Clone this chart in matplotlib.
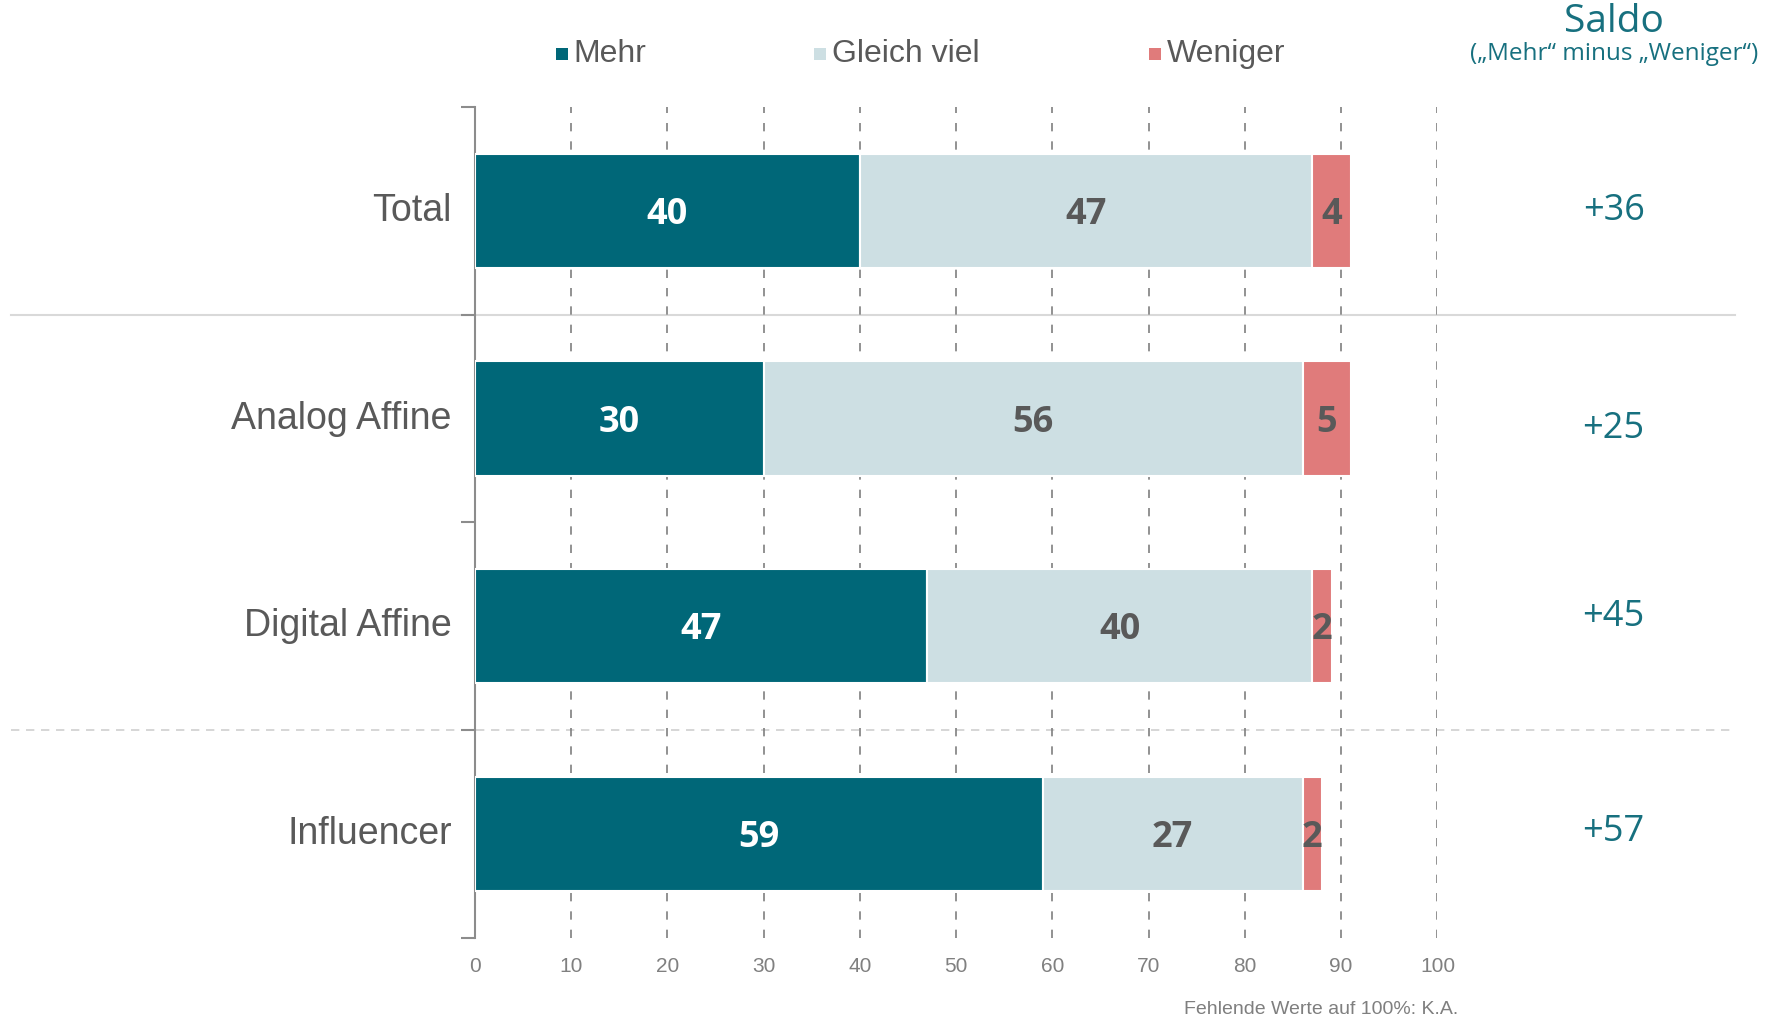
import matplotlib
matplotlib.use("Agg")
import matplotlib.pyplot as plt
from matplotlib.patches import Rectangle
from matplotlib.transforms import blended_transform_factory

groups = ["Total", "Analog Affine", "Digital Affine", "Influencer"]
mehr = [40, 30, 47, 59]
gleich = [47, 56, 40, 27]
weniger = [4, 5, 2, 2]
saldo = ["+36", "+25", "+45", "+57"]
series_names = ["Mehr", "Gleich viel", "Weniger"]

c_mehr = "#006778"
c_gleich = "#cddfe3"
c_weniger = "#e07b7b"
c_teal = "#17707f"
c_text = "#595959"

narrow = ["Liberation Sans Narrow", "Liberation Sans", "DejaVu Sans"]
arial = ["Liberation Sans", "DejaVu Sans"]
num_font = ["Open Sans", "DejaVu Sans"]

fig = plt.figure(figsize=(17.72, 10.18), dpi=100)
ax = fig.add_axes([0.2679, 0.0786, 0.5433, 0.8164])

y = list(range(len(groups)))
h = 0.55
left2 = [m + g for m, g in zip(mehr, gleich)]
ax.barh(y, mehr, height=h, color=c_mehr, edgecolor="white", linewidth=1.5, zorder=3)
ax.barh(y, gleich, left=mehr, height=h, color=c_gleich, edgecolor="white", linewidth=1.5, zorder=3)
ax.barh(y, weniger, left=left2, height=h, color=c_weniger, edgecolor="white", linewidth=1.5, zorder=3)

# small vertical nudges of the saldo column, as in the original layout
saldo_dy = [0.0, 0.05, -0.045, -0.01]

for i in y:
    ax.text(mehr[i] / 2, i + 0.02, str(mehr[i]), ha="center", va="center",
            color="white", fontsize=26, fontweight="bold", family=num_font, zorder=4)
    ax.text(mehr[i] + gleich[i] / 2, i + 0.02, str(gleich[i]), ha="center", va="center",
            color=c_text, fontsize=26, fontweight="bold", family=num_font, zorder=4)
    ax.text(left2[i] + weniger[i] / 2, i + 0.02, str(weniger[i]), ha="center", va="center",
            color=c_text, fontsize=26, fontweight="bold", family=num_font, zorder=4)
    ax.text(-2.4, i, groups[i], ha="right", va="center", color=c_text,
            fontsize=27, family=arial)
    ax.text(118.3, i + saldo_dy[i], saldo[i], ha="center", va="center", color=c_teal,
            fontsize=26, family=num_font, clip_on=False)

ax.set_xlim(0, 100)
ax.set_ylim(3.5, -0.5)
ax.set_xticks(range(0, 101, 10))
ax.set_yticks([-0.5, 0.5, 1.5, 2.5, 3.5])
ax.set_yticklabels([])
ax.tick_params(axis="y", direction="out", length=10, width=1.5, color="#8c8c8c")
ax.tick_params(axis="x", length=0, pad=14, labelsize=15, labelcolor="#808080")
for lbl in ax.get_xticklabels():
    lbl.set_family(narrow)

for x in range(10, 101, 10):
    ax.axvline(x, color="#7f7f7f", linestyle=(0, (5, 6)), linewidth=1.2, zorder=1)

for s in ["top", "right", "bottom"]:
    ax.spines[s].set_visible(False)
ax.spines["left"].set_color("#8c8c8c")
ax.spines["left"].set_linewidth(1.5)

# separators across the whole figure width
tr = blended_transform_factory(fig.transFigure, ax.transData)
ax.plot([0.006, 0.979], [0.5, 0.5], transform=tr, color="#d9d9d9", linewidth=1.5,
        clip_on=False, zorder=0)
ax.plot([0.006, 0.979], [2.5, 2.5], transform=tr, color="#d0d0d0", linewidth=1.2,
        linestyle=(0, (5, 4)), clip_on=False, zorder=0)

# legend
legend_x = [0.317, 0.463, 0.652]
legend_colors = [c_mehr, c_gleich, c_weniger]
for lx, name, col in zip(legend_x, series_names, legend_colors):
    fig.add_artist(Rectangle((lx - 0.0035, 0.941), 0.0068, 0.0118, transform=fig.transFigure,
                             facecolor=col, edgecolor="none"))
    fig.text(lx + 0.0065, 0.947, name, ha="left", va="center", color=c_text,
             fontsize=23, family=narrow)

fig.text(0.911, 0.978, "Saldo", ha="center", va="center", color=c_teal,
         fontsize=28, family=num_font)
fig.text(0.911, 0.947, "(\u201eMehr\u201c minus \u201eWeniger\u201c)", ha="center", va="center",
         color=c_teal, fontsize=17.5, family=num_font)

fig.text(0.823, 0.0, "Fehlende Werte auf 100%: K.A.", ha="right", va="bottom",
         color="#7f7f7f", fontsize=14, family=narrow)

fig.savefig("out.png", dpi=100, facecolor="white")
